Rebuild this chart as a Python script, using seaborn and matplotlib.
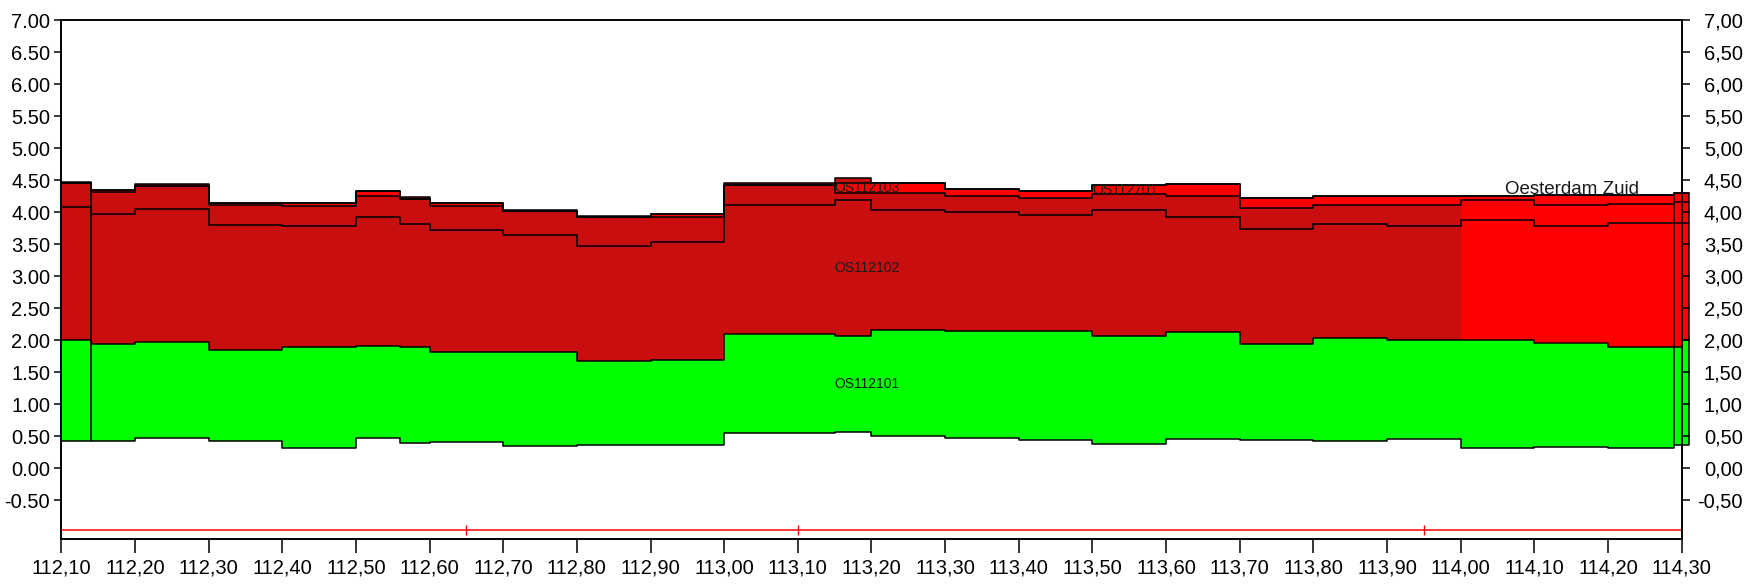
import matplotlib
matplotlib.use("Agg")
import matplotlib.pyplot as plt
import seaborn as sns
import numpy as np

# section boundaries (km) and layer levels (m) per section
grenzen = [112.10, 112.14, 112.20, 112.30, 112.40, 112.50, 112.56, 112.60, 112.70,
           112.80, 112.90, 113.00, 113.15, 113.20, 113.30, 113.40, 113.50, 113.60,
           113.70, 113.80, 113.90, 114.00, 114.10, 114.20, 114.29, 114.30, 114.31]
onderkant = [0.43, 0.43, 0.48, 0.43, 0.32, 0.48, 0.40, 0.41, 0.35, 0.36, 0.36, 0.55, 0.56,
             0.505, 0.475, 0.44, 0.38, 0.45, 0.44, 0.43, 0.46, 0.32, 0.34, 0.32, 0.365, 0.365]
groen_top = [2.00, 1.94, 1.98, 1.85, 1.89, 1.91, 1.90, 1.82, 1.82, 1.68, 1.69, 2.10, 2.06,
             2.155, 2.14, 2.14, 2.07, 2.125, 1.94, 2.035, 2.005, 2.005, 1.965, 1.895, 1.90, 2.00]
lijn1 = [4.08, 3.97, 4.05, 3.80, 3.79, 3.93, 3.82, 3.72, 3.65, 3.47, 3.54, 4.12, 4.19,
         4.03, 4.005, 3.96, 4.035, 3.92, 3.74, 3.82, 3.79, 3.88, 3.79, 3.84, 3.84, 3.84]
lijn2 = [4.45, 4.32, 4.41, 4.115, 4.10, 4.26, 4.215, 4.10, 4.016, 3.92, 3.93, 4.43, 4.30,
         4.30, 4.25, 4.225, 4.28, 4.255, 4.07, 4.115, 4.115, 4.19, 4.115, 4.13, 4.155, 4.155]
lijn3 = [4.45, 4.35, 4.41, 4.145, 4.14, 4.33, 4.215, 4.15, 4.016, 3.92, 3.97, 4.43, 4.46,
         4.46, 4.365, 4.33, 4.43, 4.445, 4.225, 4.255, 4.255, 4.255, 4.265, 4.275, 4.30, 4.30]
lijn4 = [4.47, 4.35, 4.44, 4.145, 4.14, 4.33, 4.235, 4.15, 4.03, 3.94, 3.97, 4.45, 4.535,
         4.46, 4.365, 4.33, 4.43, 4.445, 4.225, 4.255, 4.255, 4.255, 4.265, 4.275, 4.30, 4.30]
grens_oesterdam = 114.00

labels = ["OS112101", "OS112102", "OS112103", "OS112701", "Oesterdam Zuid"]
label_x = [113.15, 113.15, 113.15, 113.50, 114.06]
label_y = [1.31, 3.13, 4.375, 4.354, 4.285]

ref_y = -0.97
ref_marks = [112.65, 113.10, 113.95]

x_ticks = np.round(np.arange(112.10, 114.301, 0.10), 2)
y_ticks = np.round(np.arange(-0.50, 7.001, 0.50), 2)

GROEN = "#00FF00"
DONKERROOD = "#C80E0E"
ROOD = "#FF0000"

sns.set_style("white")
plt.rcParams["font.family"] = ["Liberation Sans", "DejaVu Sans"]

fig = plt.figure(figsize=(17.51, 5.85), dpi=100)
ax = fig.add_axes([0.035, 0.0786, 0.9254, 0.8867])

# filled sections
for i in range(len(onderkant)):
    x0, x1 = grenzen[i], grenzen[i + 1]
    oost = x0 >= grens_oesterdam
    lagen = [
        (onderkant[i], groen_top[i], GROEN),
        (groen_top[i], lijn1[i], ROOD if oost else DONKERROOD),
        (lijn1[i], lijn2[i], ROOD if oost else DONKERROOD),
        (lijn2[i], lijn3[i], ROOD),
        (lijn3[i], lijn4[i], ROOD if oost else DONKERROOD),
    ]
    for lo, hi, kleur in lagen:
        if hi > lo:
            p = ax.fill_between([x0, x1], lo, hi, color=kleur, lw=0)
            p.set_clip_on(False)

# step outlines
for reeks in [onderkant, groen_top, lijn1, lijn2, lijn3, lijn4]:
    sns.lineplot(x=grenzen, y=list(reeks) + [reeks[-1]], drawstyle="steps-post",
                 color="black", lw=1.1, ax=ax, sort=False)
    ax.lines[-1].set_clip_on(False)
ax.vlines(grenzen[1], onderkant[0], lijn4[0], color="black", lw=1.1)
ax.vlines([grenzen[-3], grenzen[-1]], onderkant[-1], lijn4[-1], color="black", lw=1.1,
          clip_on=False)

# reference line
ax.axhline(ref_y, color=ROOD, lw=1.1)
ax.plot(ref_marks, [ref_y] * len(ref_marks), ls="none", marker="|", ms=7,
        mew=1.0, color=ROOD)

# labels
for tekst, lx, ly in zip(labels[:4], label_x[:4], label_y[:4]):
    ax.text(lx, ly, tekst, fontsize=10, ha="left", va="center", color="#1a1a1a")
ax.text(label_x[4], label_y[4], labels[4], fontsize=13.5, ha="left", va="baseline",
        color="#1a1a1a")

ax.set_xlim(112.10, 114.30)
ax.set_ylim(-1.105, 7.0)
ax.set_xticks(x_ticks)
ax.set_xticklabels([f"{v:.2f}".replace(".", ",") for v in x_ticks])
ax.set_yticks(y_ticks)
ax.set_yticklabels([f"{v:.2f}" for v in y_ticks])
ax.tick_params(axis="x", direction="out", length=10, width=1.1, pad=4,
               labelsize=14.5, colors="black", bottom=True)
ax.tick_params(axis="y", direction="out", length=5, width=1.1, pad=3,
               labelsize=14.5, colors="black", left=True)

ax2 = ax.twinx()
ax2.set_ylim(ax.get_ylim())
ax2.set_yticks(y_ticks)
ax2.set_yticklabels([f"{v:.2f}".replace(".", ",") for v in y_ticks], ha="right")
ax2.tick_params(axis="y", direction="out", length=6, width=1.1, pad=38,
                labelsize=14.5, colors="black", right=True)

for a in (ax, ax2):
    for s in a.spines.values():
        s.set_color("black")
        s.set_linewidth(1.2)

fig.savefig("out.png", dpi=100)
